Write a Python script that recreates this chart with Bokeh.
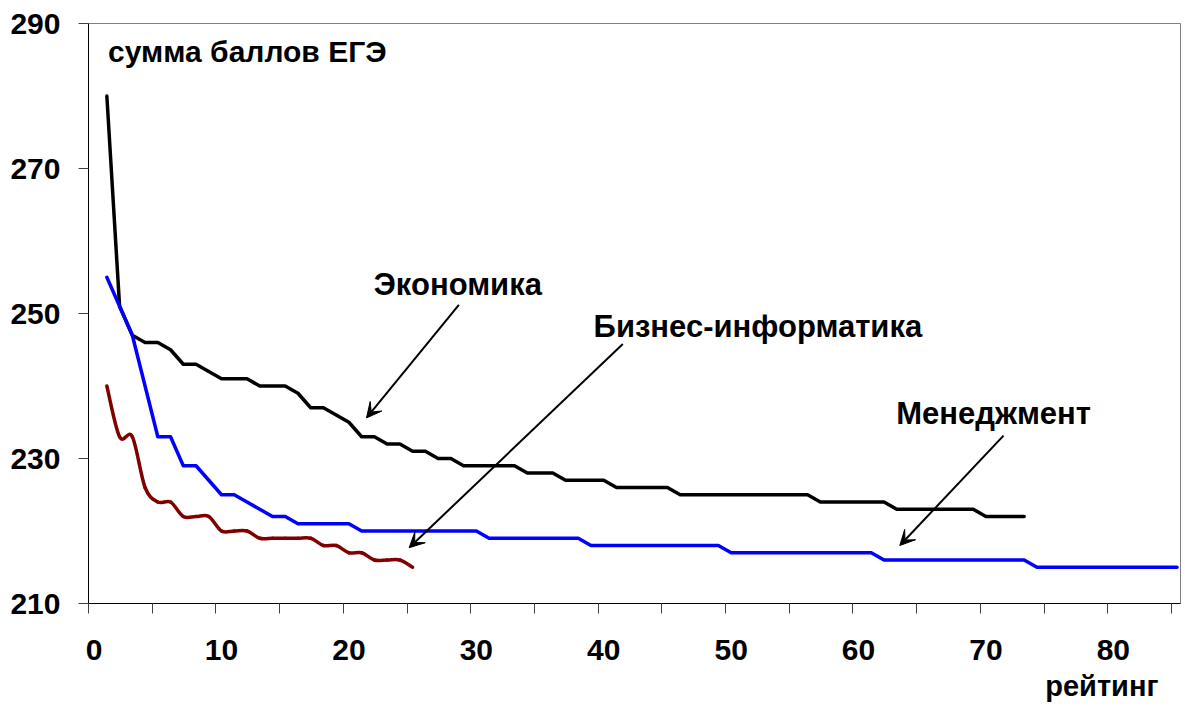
from bokeh.plotting import figure
from bokeh.models import (Range1d, FixedTicker, Arrow, VeeHead, Label, LinearAxis, Title,
                          ColumnDataSource, CustomJSTickFormatter)
from bokeh.embed import file_html
from bokeh.resources import INLINE

# ---------------- data ----------------
econ_scores = [280, 251, 247, 246, 246, 245, 243, 243, 242, 241,
               241, 241, 240, 240, 240, 239, 237, 237, 236, 235,
               233, 233, 232, 232, 231, 231, 230, 230, 229, 229,
               229, 229, 229, 228, 228, 228, 227, 227, 227, 227,
               226, 226, 226, 226, 226, 225, 225, 225, 225, 225,
               225, 225, 225, 225, 225, 225, 224, 224, 224, 224,
               224, 224, 223, 223, 223, 223, 223, 223, 223, 222,
               222, 222, 222]
mgmt_scores = [255, 251, 247, 240, 233, 233, 229, 229, 227, 225,
               225, 224, 223, 222, 222, 221, 221, 221, 221, 221,
               220, 220, 220, 220, 220, 220, 220, 220, 220, 220,
               219, 219, 219, 219, 219, 219, 219, 219, 218, 218,
               218, 218, 218, 218, 218, 218, 218, 218, 218, 217,
               217, 217, 217, 217, 217, 217, 217, 217, 217, 217,
               217, 216, 216, 216, 216, 216, 216, 216, 216, 216,
               216, 216, 216, 215, 215, 215, 215, 215, 215, 215,
               215, 215, 215, 215, 215]
bi_scores = [240, 233, 233, 226, 224, 224, 222, 222, 222, 220,
             220, 220, 219, 219, 219, 219, 219, 218, 218, 217,
             217, 216, 216, 216, 215]

econ_rank = list(range(1, len(econ_scores) + 1))
mgmt_rank = list(range(1, len(mgmt_scores) + 1))
bi_rank = list(range(1, len(bi_scores) + 1))

x_tick_labels = [0, 10, 20, 30, 40, 50, 60, 70, 80]
y_ticks = [210, 230, 250, 270, 290]

series_names = ["Экономика", "Бизнес-информатика", "Менеджмент"]
y_title = "сумма баллов ЕГЭ"
x_title = "рейтинг"

# ---------------- layout / style ----------------
FONT = "Liberation Sans"
TICK_SHIFT = -0.44          # tick marks sit slightly left of the category positions
X0, X1 = TICK_SHIFT, 85.27
Y0, Y1 = 210, 290

p = figure(width=1185, height=706, output_backend="svg", toolbar_location=None,
           x_range=Range1d(X0, X1), y_range=Range1d(Y0, Y1),
           x_axis_location=None,
           min_border_left=88, min_border_right=5, min_border_top=23,
           min_border_bottom=102)
p.background_fill_color = "white"
p.border_fill_color = "white"
p.outline_line_color = "#808080"
p.outline_line_width = 1
p.grid.visible = False

# x axis A: tick marks only
xa = LinearAxis(ticker=FixedTicker(ticks=[k * 5 + TICK_SHIFT for k in range(0, 18)]),
                formatter=CustomJSTickFormatter(code="return ''"),
                major_tick_out=10, major_tick_in=0, minor_tick_line_color=None,
                axis_line_color="black", major_tick_line_color="#404040",
                major_label_text_font_size="1px", major_label_standoff=0)
p.add_layout(xa, "below")

# x axis B: labels only, centred on the ranks
xb = LinearAxis(ticker=FixedTicker(ticks=x_tick_labels),
                major_tick_out=0, major_tick_in=0, minor_tick_line_color=None,
                axis_line_color=None, major_tick_line_color=None,
                major_label_standoff=26,
                major_label_text_font=FONT, major_label_text_font_style="bold",
                major_label_text_font_size="30px", major_label_text_color="black")
p.add_layout(xb, "below")

# x title
p.add_layout(Title(text=x_title, align="right", offset=22, standoff=10,
                   text_font=FONT, text_font_style="bold", text_font_size="29px",
                   text_color="black"), "below")

ya = p.yaxis[0]
ya.ticker = FixedTicker(ticks=y_ticks)
ya.major_tick_out = 10
ya.major_tick_in = 0
ya.minor_tick_line_color = None
ya.axis_line_color = "black"
ya.major_tick_line_color = "#404040"
ya.major_label_standoff = 18
ya.major_label_text_font = FONT
ya.major_label_text_font_style = "bold"
ya.major_label_text_font_size = "30px"
ya.major_label_text_color = "black"

# lines
p.line(econ_rank, econ_scores, line_color="black", line_width=3.5,
       line_join="round", line_cap="round")
p.line(mgmt_rank, mgmt_scores, line_color="#0000FF", line_width=3.5,
       line_join="round", line_cap="round")

# smoothed line (Bezier through the data points, as in the original chart)
def smooth(xs, ys):
    n = len(xs)
    d = dict(x0=[], y0=[], x1=[], y1=[], cx0=[], cy0=[], cx1=[], cy1=[])
    for i in range(n - 1):
        xp, yp = (xs[i - 1], ys[i - 1]) if i > 0 else (xs[i], ys[i])
        xq, yq = (xs[i + 2], ys[i + 2]) if i + 2 < n else (xs[i + 1], ys[i + 1])
        d["x0"].append(xs[i]); d["y0"].append(ys[i])
        d["x1"].append(xs[i + 1]); d["y1"].append(ys[i + 1])
        d["cx0"].append(xs[i] + (xs[i + 1] - xp) / 6.0)
        d["cy0"].append(ys[i] + (ys[i + 1] - yp) / 6.0)
        d["cx1"].append(xs[i + 1] - (xq - xs[i]) / 6.0)
        d["cy1"].append(ys[i + 1] - (yq - ys[i]) / 6.0)
    return ColumnDataSource(d)

p.bezier(x0="x0", y0="y0", x1="x1", y1="y1", cx0="cx0", cy0="cy0", cx1="cx1", cy1="cy1",
         source=smooth(bi_rank, bi_scores), line_color="#800000", line_width=3.5,
         line_cap="round")

# annotations (anchored at the vertical centre of the text)
def txt(x, y, s, size="31px", align="center"):
    p.add_layout(Label(x=x, y=y, text=s, text_align=align, text_baseline="middle",
                       text_font=FONT, text_font_style="bold", text_font_size=size,
                       text_color="black"))

txt(1.1, 286.2, y_title, size="30px", align="left")
txt(28.55, 254.06, series_names[0])
txt(52.1, 248.14, series_names[1])
txt(70.6, 236.26, series_names[2])

def arrow(xs, ys, xe, ye):
    p.add_layout(Arrow(x_start=xs, y_start=ys, x_end=xe, y_end=ye, line_width=2,
                       line_color="black",
                       end=VeeHead(size=15, fill_color="black", line_color="black",
                                   line_width=1)))

arrow(28.63, 251.2, 21.38, 235.6)
arrow(41.5, 245.8, 24.73, 217.7)
arrow(71.38, 233.15, 63.24, 218.0)

open("out.html", "w").write(file_html(p, INLINE))
